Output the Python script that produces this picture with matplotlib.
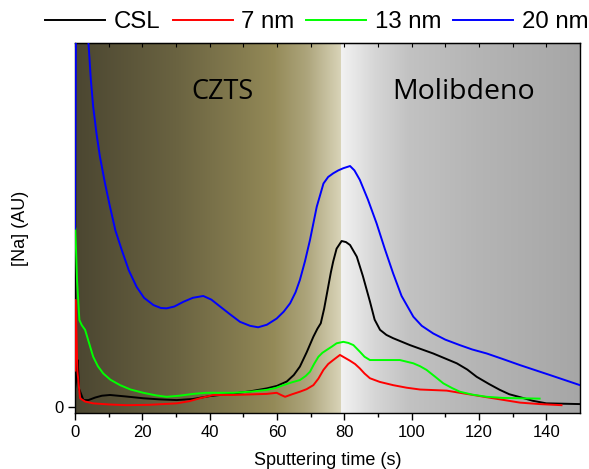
import numpy as np
import matplotlib
matplotlib.use("Agg")
import matplotlib.pyplot as plt
from matplotlib.colors import LinearSegmentedColormap

plt.rcParams['font.family'] = ['Liberation Sans', 'DejaVu Sans']

# --- data (time in s, [Na] in arbitrary units) ---
t_csl = [0, 0.5, 0.8, 1.2, 2.5, 4, 6, 8, 10.4, 15, 20.3, 25, 30.2, 35, 40.1, 47, 52,
         56.9, 60, 62.9, 65, 66.8, 68.8, 70.8, 72, 73, 74, 75.2, 76, 76.7, 77.7, 79.2,
         80.5, 81.7, 83.7, 85.5, 87.6, 89, 90.6, 92.5, 94.5, 99.5, 106.4, 113.4, 116.5,
         119.3, 123, 126.2, 129, 132.2, 136, 140, 150]
na_csl = [5, 8, 12.9, 5, 1.9, 1.9, 2.6, 3.1, 3.3, 2.9, 2.4, 2.1, 1.9, 2.2, 3.0, 3.7, 4.3,
          5.1, 5.8, 7.0, 8.8, 11.1, 15, 19.3, 21.5, 23, 27, 33, 37, 40, 43.5, 45.6,
          45.3, 44.5, 41.3, 36, 29, 24, 21.2, 19.8, 18.9, 17.0, 14.7, 12.0, 10.3,
          8.3, 6.3, 4.7, 3.5, 2.7, 1.7, 1.0, 0.8]

t_7nm = [0, 0.2, 0.7, 1.5, 3, 5.4, 10, 15.3, 22, 30.2, 34, 37.1, 41.1, 47, 56.9, 59.9,
         61.2, 62.4, 64.5, 66.8, 68.8, 70.8, 72.3, 73.8, 75.2, 76.7, 78.7, 80.2, 81.7,
         83.2, 84.6, 86, 87.6, 90.5, 94.5, 98.5, 102.5, 110.4, 114.3, 118.3, 122.2,
         126.2, 132.2, 138, 144.5]
na_7nm = [10, 29.4, 10, 2.4, 1.5, 1.0, 0.7, 0.5, 0.6, 1.0, 1.6, 2.4, 3.3, 3.3, 3.6, 3.9,
          3.3, 2.8, 3.5, 4.2, 4.9, 6.0, 7.8, 10.2, 11.8, 12.9, 14.3, 13.5, 12.7,
          11.8, 10.6, 9.2, 7.9, 6.9, 6.0, 5.3, 4.8, 4.5, 3.9, 3.3, 2.7,
          2.1, 1.2, 0.8, 0.5]

t_13nm = [0.1, 0.6, 1.3, 2, 3, 4.2, 5.4, 6.8, 8.4, 10.5, 13.4, 16.5, 20.3, 24, 27.2, 31,
          35.1, 39, 43.1, 47, 52, 56.9, 59.5, 61.9, 64.5, 66.8, 68.5, 69.8, 71, 72.3,
          73.5, 74.8, 76.3, 77.7, 79.7, 81.2, 82.7, 84.6, 86, 87.6, 90.6, 96.5, 100.5,
          102.5, 104.4, 107, 109.4, 112, 114.3, 118, 122.3, 127, 132.2, 138]
na_13nm = [49, 35, 23.9, 22.5, 21.2, 17.5, 13.8, 11.2, 9.2, 7.5, 6.0, 4.8, 3.9, 3.2, 2.8, 3.1,
           3.6, 3.9, 3.9, 3.9, 4.2, 4.7, 5.2, 6.0, 6.8, 7.4, 8.5, 9.7, 11.8, 13.8,
           14.9, 15.7, 16.6, 17.5, 17.9, 17.6, 17.0, 15.2, 13.8, 12.9, 12.9, 12.9, 12.0,
           11.2, 10.2, 8.3, 6.5, 5.2, 4.2, 3.4, 2.8, 2.5, 2.4, 2.3]

t_20nm = [0, 0.3, 3.6, 4.0, 4.7, 5.4, 6.4, 7.4, 8.9, 10.4, 12, 13.9, 16, 18.3, 20.5, 23.3,
          25.5, 27.2, 29.5, 32.2, 35, 38.1, 40.5, 43.1, 46, 49, 52, 54.4, 57, 59.9, 62,
          63.9, 65.5, 66.8, 68.3, 69.8, 71.8, 73.8, 75.2, 76.7, 78.2, 79.7, 81.7, 83,
          84.6, 87, 89.6, 92, 94.5, 97, 100.5, 103, 106.4, 110, 114.3, 118, 122.3, 127,
          132.2, 141, 150]
na_20nm = [49, 110, 110, 100, 90, 82.5, 75, 68.8, 61.5, 55, 48.5, 43.1, 37.5, 33.0, 30, 28.0,
           27.2, 27.1, 27.6, 28.9, 30, 30.5, 29.5, 27.6, 25.5, 23.4, 22.3, 21.9, 22.6, 24.3, 26.2,
           28.5, 31.5, 34.9, 40, 45.9, 55.0, 61.4, 63.2, 64.2, 65, 65.6, 66.2, 65,
           62.4, 57, 50.4, 43.5, 36.7, 30.5, 24.8, 22.3, 20.2, 18.5, 17.0, 15.8, 14.7, 13.2,
           11.5, 8.8, 6.0]

series = [("CSL", t_csl, na_csl, "black"),
          ("7 nm", t_7nm, na_7nm, "#ff0000"),
          ("13 nm", t_13nm, na_13nm, "#00ff00"),
          ("20 nm", t_20nm, na_20nm, "#0000ff")]

boundary = 78.9   # CZTS / Mo interface
xmax = 150
ylo, yhi = -1.65, 100

fig = plt.figure(figsize=(5.89, 4.69), dpi=100)
ax = fig.add_axes([75 / 589, 1 - 413 / 469, 505 / 589, 370 / 469])

# --- background gradients ---
czts_cmap = LinearSegmentedColormap.from_list("czts", [
    (0.0, "#4b4631"), (30 / boundary, "#6a6341"), (50 / boundary, "#867d50"),
    (59 / boundary, "#948a58"), (69 / boundary, "#ada57c"), (1.0, "#d8d3b7")])
mo_cmap = LinearSegmentedColormap.from_list("mo", [
    (0.0, "#f2f2f2"), (10 / 71, "#d6d6d6"), (20 / 71, "#c2c2c2"),
    (40 / 71, "#b5b5b5"), (1.0, "#a6a6a6")])
grad = np.linspace(0, 1, 256)[None, :]
ax.imshow(grad, cmap=czts_cmap, aspect="auto", extent=(0, boundary, ylo, yhi), zorder=0)
ax.imshow(grad, cmap=mo_cmap, aspect="auto", extent=(boundary, xmax, ylo, yhi), zorder=0)

for name, t, na, c in series:
    ax.plot(t, na, color=c, lw=1.4, label=name, zorder=3)

ax.text(43.7, 86.5, "CZTS", fontsize=19.5, family="Open Sans", ha="center", va="center")
ax.text(115.3, 86.5, "Molibdeno", fontsize=20.5, family="Open Sans", ha="center", va="center")

ax.set_xlim(0, xmax)
ax.set_ylim(ylo, yhi)
ax.set_xticks(np.arange(0, 141, 20))
ax.set_xticks(np.arange(10, 150, 20), minor=True)
ax.set_yticks([0])
ax.tick_params(axis="both", labelsize=12, direction="out", length=5, width=1)
ax.tick_params(axis="x", which="minor", length=3, width=1)
ax.set_xlabel("Sputtering time (s)", fontsize=13, labelpad=9)
ax.set_ylabel("[Na] (AU)", fontsize=13, labelpad=18)
for s in ax.spines.values():
    s.set_linewidth(1)

# small inward ticks on the top edge
top = ax.secondary_xaxis("top")
top.set_xticks(np.arange(0, 151, 10))
top.tick_params(direction="in", length=3, width=0.8, labeltop=False)

fig.legend(loc="center", bbox_to_anchor=(0.538, 1 - 22 / 469), ncol=4, frameon=False,
           fontsize=17.3, handlelength=2.5, handletextpad=0.35, columnspacing=0.5,
           borderpad=0)

fig.savefig("out.png", dpi=100)
